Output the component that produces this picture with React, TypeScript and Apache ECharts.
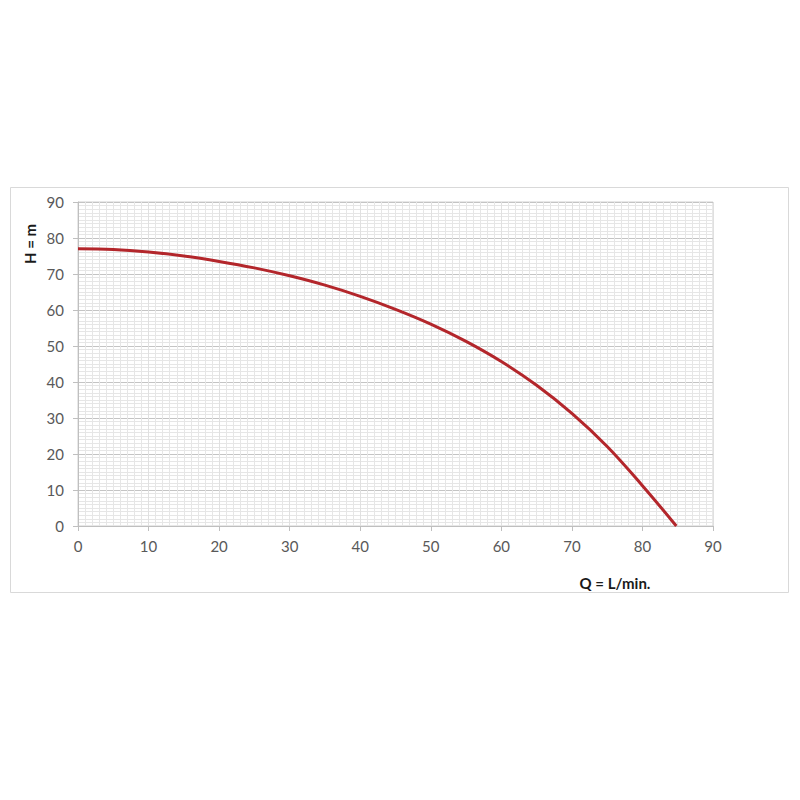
import React, { useEffect, useRef } from "react";
import * as echarts from "echarts";

const flowQ = [0, 5, 10, 15, 20, 25, 30, 35, 40, 45, 50, 55, 60, 65, 70, 75, 80, 84.8];
const headH = [77, 76.8, 76.1, 75.0, 73.5, 71.7, 69.5, 66.9, 63.8, 60.2, 56.1, 51.3, 45.7, 39.1, 31.3, 22.1, 11.2, 0];
const xTitle = "Q = L/min.";
const yTitle = "H = m";

export default function App() {
  const ref = useRef<HTMLDivElement>(null);
  useEffect(() => {
    if (!ref.current) return;
    const chart = echarts.init(ref.current, null, { renderer: "svg" });
    const font = "Lato, 'Open Sans', sans-serif";
    const axisCommon = {
      min: 0,
      max: 90,
      interval: 10,
      axisLine: { show: true, lineStyle: { color: "#bfbfbf", width: 1 } },
      axisTick: { show: true, length: 5, lineStyle: { color: "#bfbfbf" } },
      axisLabel: { color: "#595959", fontSize: 15, fontFamily: font },
      minorTick: { show: false, splitNumber: 10 },
      minorSplitLine: { show: true, lineStyle: { color: "#e6e6e6", width: 1 } },
    };
    chart.setOption({
      animation: false,
      backgroundColor: "#ffffff",
      grid: {
        left: 78,
        right: 87,
        top: 202,
        bottom: 274,
        containLabel: false,
        show: true,
        borderColor: "#d0d0d0",
        borderWidth: 1,
      },
      xAxis: {
        type: "value",
        ...axisCommon,
        splitLine: { show: true, lineStyle: { color: "#e0e0e0", width: 1 } },
        axisLabel: { ...axisCommon.axisLabel, margin: 12 },
      },
      yAxis: {
        type: "value",
        ...axisCommon,
        splitLine: { show: true, lineStyle: { color: "#c4c4c4", width: 1 } },
        axisLabel: { ...axisCommon.axisLabel, margin: 14 },
      },
      graphic: [
        {
          type: "rect",
          shape: { x: 10.5, y: 187.5, width: 778, height: 405 },
          style: { fill: "none", stroke: "#d9d9d9", lineWidth: 1 },
          silent: true,
        },
        {
          type: "text",
          x: 615,
          y: 583,
          style: {
            text: xTitle,
            font: `bold 15px ${font}`,
            fill: "#1a1a1a",
            textAlign: "center",
            textVerticalAlign: "middle",
          },
        },
        {
          type: "text",
          x: 30,
          y: 244,
          rotation: Math.PI / 2,
          style: {
            text: yTitle,
            font: `bold 15px ${font}`,
            fill: "#1a1a1a",
            textAlign: "center",
            textVerticalAlign: "middle",
          },
        },
      ],
      series: [
        {
          type: "line",
          data: flowQ.map((q, i) => [q, headH[i]]),
          smooth: 0.4,
          showSymbol: false,
          lineStyle: { color: "#b3262b", width: 3 },
        },
      ],
    });
    return () => chart.dispose();
  }, []);
  return (
    <div
      ref={ref}
      style={{ position: "absolute", left: 0, top: 0, width: 800, height: 800 }}
    />
  );
}
